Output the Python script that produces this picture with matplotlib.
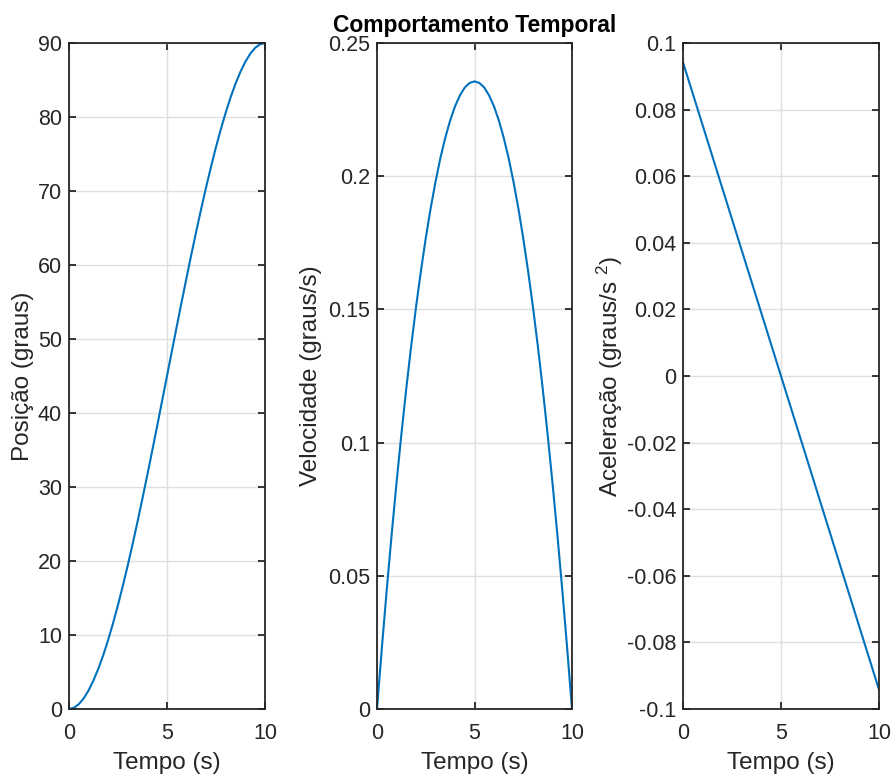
import matplotlib
matplotlib.use("Agg")
import matplotlib.pyplot as plt
from matplotlib.ticker import FormatStrFormatter

plt.rcParams['font.family'] = ['Liberation Sans', 'DejaVu Sans']
plt.rcParams['mathtext.fontset'] = 'custom'
plt.rcParams['mathtext.rm'] = 'Liberation Sans'
plt.rcParams['mathtext.it'] = 'Liberation Sans'
plt.rcParams['axes.unicode_minus'] = False

# values (t in s)
tempo = [0, 0.25, 0.5, 0.75, 1, 1.25, 1.5, 1.75, 2, 2.25, 2.5, 2.75, 3, 3.25, 3.5, 3.75,
         4, 4.25, 4.5, 4.75, 5, 5.25, 5.5, 5.75, 6, 6.25, 6.5, 6.75, 7, 7.25, 7.5, 7.75,
         8, 8.25, 8.5, 8.75, 9, 9.25, 9.5, 9.75, 10]
posicao = [0, 0.17, 0.65, 1.44, 2.52, 3.87, 5.47, 7.30, 9.36, 11.62, 14.06, 16.68,
           19.44, 22.34, 25.36, 28.48, 31.68, 34.95, 38.27, 41.63, 45.0, 48.37, 51.73,
           55.05, 58.32, 61.52, 64.64, 67.66, 70.56, 73.33, 75.94, 78.38, 80.64, 82.70,
           84.53, 86.13, 87.48, 88.56, 89.35, 89.83, 90.0]
velocidade = [0, 0.0230, 0.0448, 0.0654, 0.0848, 0.1031, 0.1202, 0.1361, 0.1508, 0.1643,
              0.1767, 0.1879, 0.1979, 0.2068, 0.2144, 0.2209, 0.2262, 0.2303, 0.2333, 0.2350,
              0.2356, 0.2350, 0.2333, 0.2303, 0.2262, 0.2209, 0.2144, 0.2068, 0.1979, 0.1879,
              0.1767, 0.1643, 0.1508, 0.1361, 0.1202, 0.1031, 0.0848, 0.0654, 0.0448, 0.0230, 0]
tempo_acel = [0, 10]
aceleracao = [0.0942, -0.0942]

W, H = 893, 775
fig = plt.figure(figsize=(W / 100, H / 100), dpi=100)

def make_ax(x0, x1, y0=43, y1=709):
    return fig.add_axes([x0 / W, 1 - y1 / H, (x1 - x0) / W, (y1 - y0) / H])

axes = [make_ax(69, 265), make_ax(377, 572), make_ax(683, 879)]
cor = '#0072BD'
k = '#262626'

axes[0].plot(tempo, posicao, color=cor, lw=1.5)
axes[0].set_ylim(0, 90)
axes[0].set_yticks(range(0, 91, 10))
axes[0].set_ylabel('Posição (graus)', labelpad=3)

axes[1].plot(tempo, velocidade, color=cor, lw=1.5)
axes[1].set_ylim(0, 0.25)
axes[1].set_yticks([0, 0.05, 0.1, 0.15, 0.2, 0.25])
axes[1].set_ylabel('Velocidade (graus/s)', labelpad=4)
axes[1].set_title('Comportamento Temporal', fontsize=16.5, fontweight='bold', pad=8, color='black')

axes[2].plot(tempo_acel, aceleracao, color=cor, lw=1.5)
axes[2].set_ylim(-0.1, 0.1)
axes[2].set_yticks([-0.1, -0.08, -0.06, -0.04, -0.02, 0, 0.02, 0.04, 0.06, 0.08, 0.1])
axes[2].set_ylabel('Aceleração (graus/s $^{2}$)', labelpad=1)

for ax in axes:
    ax.set_xlim(0, 10)
    ax.set_xticks([0, 5, 10])
    ax.yaxis.set_major_formatter(FormatStrFormatter('%g'))
    ax.set_xlabel('Tempo (s)', fontsize=17.5, color=k, labelpad=6)
    ax.yaxis.label.set_fontsize(17.5)
    ax.yaxis.label.set_color(k)
    ax.grid(True, color='#dfdfdf', lw=1)
    ax.set_axisbelow(True)
    ax.tick_params(direction='in', length=5, width=1.3, top=True, right=True,
                   labelsize=15.5, colors=k, pad=5)
    ax.tick_params(axis='x', pad=10)
    for s in ax.spines.values():
        s.set_color(k)
        s.set_linewidth(1.3)

fig.savefig('out.png', dpi=100)
